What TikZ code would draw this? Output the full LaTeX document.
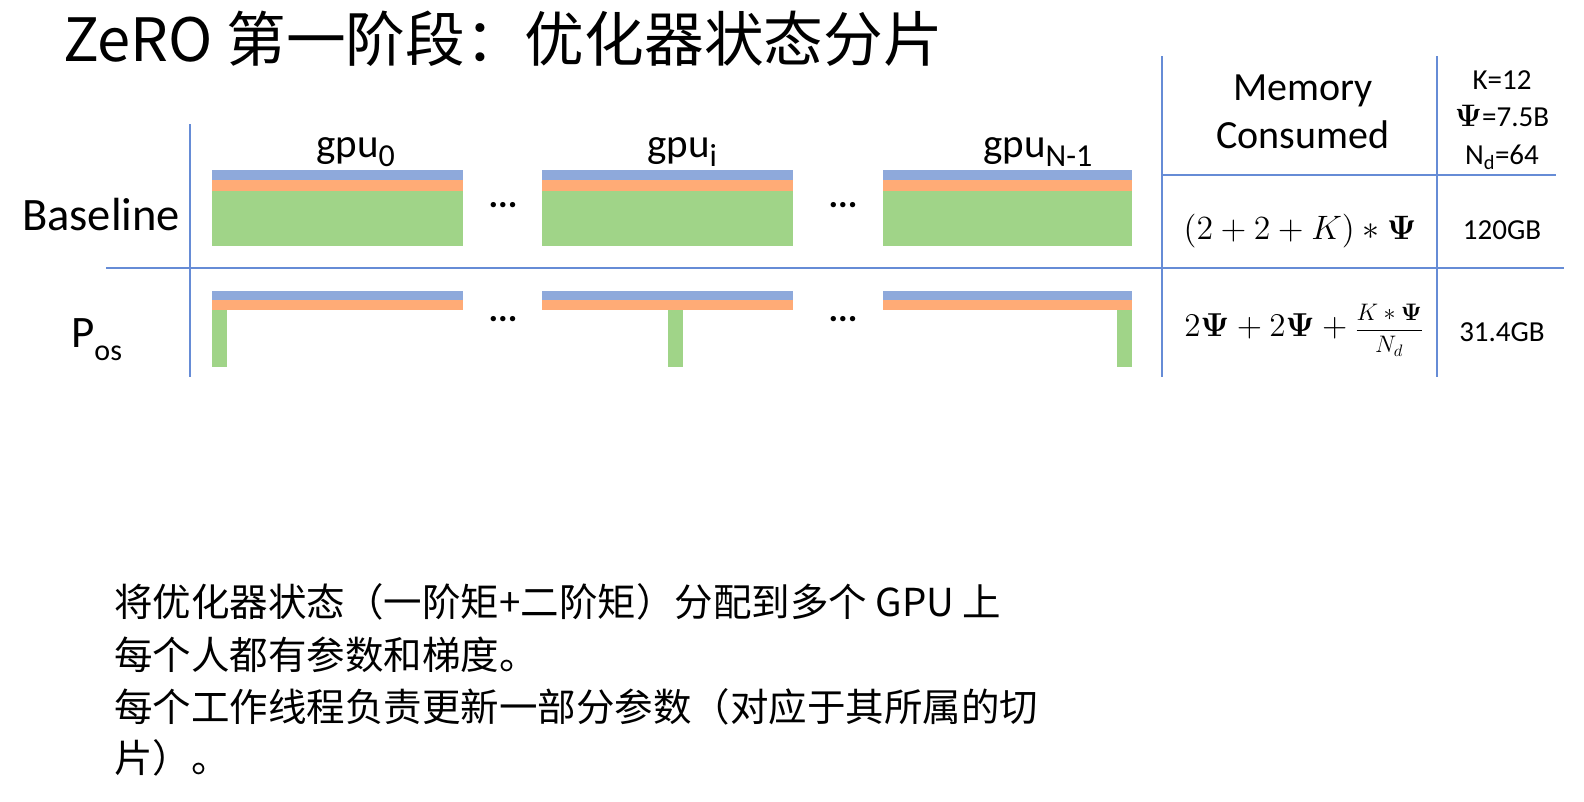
\documentclass[tikz,border=0pt]{standalone}
\usepackage{amsmath}
\usepackage[no-math]{fontspec}
\setmainfont{Carlito}
\newfontfamily\cjk{Noto Sans CJK SC}
\definecolor{lineblue}{RGB}{102,140,214}
\definecolor{barblue}{RGB}{142,169,219}
\definecolor{barorange}{RGB}{255,171,118}
\definecolor{bargreen}{RGB}{160,212,136}
\newcommand{\fs}[1]{\fontsize{#1}{#1}\selectfont}
\newcommand{\bPsi}{\mathbf{\Psi}}
\newcommand{\sub}[1]{\raisebox{-0.24em}{\fontsize{32}{32}\selectfont #1}}
\begin{document}
\begin{tikzpicture}[x=1pt,y=-1pt,
  grid/.style={draw=lineblue,line width=1.8pt},
  lbl/.style={inner sep=0pt,anchor=base west},
  clbl/.style={inner sep=0pt,anchor=base},
  mathlbl/.style={inner sep=0pt,font=\fontsize{14.4}{16}\selectfont,scale=2.35},
  dots/.style={inner sep=0pt,font=\fs{36}\bfseries}]
\useasboundingbox (0,0) rectangle (1584,801);
% title
\node[lbl,font=\cjk\fs{59.7}] (title) at (63,61) {ZeRO 第一阶段：优化器状态分片};
% grid lines
\coordinate (vl1) at (190,124); \coordinate (vl2) at (190,377);
\coordinate (vm1) at (1162,56); \coordinate (vm2) at (1162,377);
\coordinate (vr1) at (1437,56); \coordinate (vr2) at (1437,377);
\coordinate (h1a) at (106,268); \coordinate (h1b) at (1564,268);
\coordinate (h2a) at (1162,175); \coordinate (h2b) at (1556,175);
\draw[grid,line width=1.2pt] (vl1) -- (vl2);
\draw[grid] (vm1) -- (vm2);
\draw[grid] (vr1) -- (vr2);
\draw[grid,line width=1.4pt] (h1a) -- (h1b);
\draw[grid,line width=1.4pt] (h2a) -- (h2b);
% bars
\foreach \x/\w in {212/463,542/793,883/1132}{
  \fill[barblue] (\x,170) rectangle (\w,180);
  \fill[barorange] (\x,180) rectangle (\w,191);
  \fill[bargreen] (\x,191) rectangle (\w,246);
  \fill[barblue] (\x,291) rectangle (\w,300);
  \fill[barorange] (\x,300) rectangle (\w,310);
}
\fill[bargreen] (212,310) rectangle (227,367);
\fill[bargreen] (668,310) rectangle (683,367);
\fill[bargreen] (1117,310) rectangle (1132,367);
% dots
\node[dots] (d1) at (503,205) {...};
\node[dots] (d2) at (843,205) {...};
\node[dots] (d3) at (503,319) {...};
\node[dots] (d4) at (843,319) {...};
% gpu labels
\node[lbl,font=\fs{41}] (g0) at (316,157) {gpu\sub{0}};
\node[lbl,font=\fs{41}] (gi) at (647,157) {gpu\sub{i}};
\node[lbl,font=\fs{41}] (gn) at (983,157) {gpu\sub{N-1}};
% row labels
\node[lbl,font=\fs{46.5}] (base) at (22,230) {Baseline};
\node[lbl,font=\fs{45}] (pos) at (71,347) {P\raisebox{-0.3em}{\fs{30}os}};
% header
\node[clbl,font=\fs{40}] (mem) at (1303,100) {Memory};
\node[clbl,font=\fs{40}] (con) at (1303,148) {Consumed};
\node[clbl,font=\fs{29}] (k) at (1502,89) {K=12};
\node[clbl,font=\fs{29}] (psi) at (1502,126) {\scalebox{1.25}{$\bPsi$}=7.5B};
\node[clbl,font=\fs{29}] (nd) at (1502,164) {N\textsubscript{d}=64};
% formulas
\node[mathlbl] (f1) at (1300,231) {$(2+2+K)*\bPsi$};
\node[mathlbl,scale=0.98] (f2) at (1304,330) {$2\bPsi+2\bPsi+\scalebox{0.72}{$\displaystyle\frac{K*\bPsi}{N_d}$}$};
\node[clbl,font=\fs{29}] (m1) at (1502,239) {120GB};
\node[clbl,font=\fs{29}] (m2) at (1502,341) {31.4GB};
% bottom text
\node[lbl,font=\cjk\fs{38.5}] (t1) at (114,616) {将优化器状态（一阶矩+二阶矩）分配到多个 GPU 上};
\node[lbl,font=\cjk\fs{38.5}] (t2) at (114,669) {每个人都有参数和梯度。};
\node[lbl,font=\cjk\fs{38.5}] (t3) at (114,721) {每个工作线程负责更新一部分参数（对应于其所属的切};
\node[lbl,font=\cjk\fs{38.5}] (t4) at (114,772) {片）。};
\end{tikzpicture}
\end{document}
